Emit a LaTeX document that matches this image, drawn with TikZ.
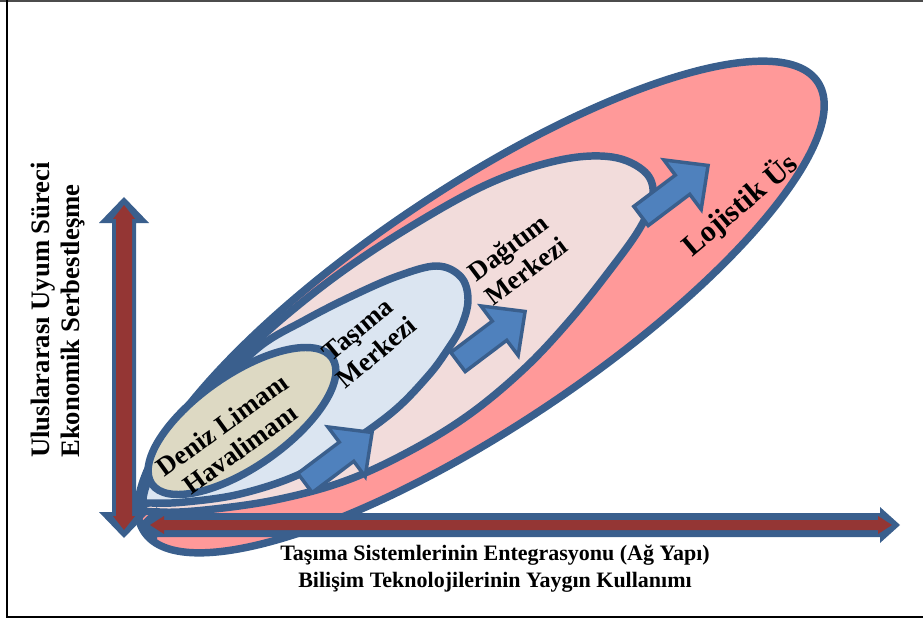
\documentclass[tikz,border=0pt]{standalone}
\usepackage{fontspec}
\setmainfont{Liberation Serif}
\definecolor{rimblue}{HTML}{3A5F8D}
\definecolor{arrowfill}{HTML}{4F81BD}
\definecolor{beige}{HTML}{DDD9C3}
\definecolor{paleblue}{HTML}{DBE5F1}
\definecolor{palepink}{HTML}{F2DCDB}
\definecolor{salmon}{HTML}{FF9999}
\definecolor{axisred}{HTML}{943634}
\begin{document}
\begin{tikzpicture}[x=0.75pt,y=-0.75pt,
  rim/.style={draw=rimblue, line width=5.6pt, line join=round},
  growarrow/.style={draw=rimblue, fill=arrowfill, line width=2.6pt, line join=miter},
  axisbody/.style={fill=rimblue},
  axiscore/.style={fill=axisred},
  stagelbl/.style={font=\bfseries\fontsize{20}{22.5}\selectfont, align=center, inner sep=0pt},
  axislbl/.style={font=\bfseries\fontsize{16.5}{20}\selectfont, align=center, inner sep=0pt},
  sidelbl/.style={font=\bfseries\fontsize{20}{22.5}\selectfont, align=left, inner sep=0pt}
]
\useasboundingbox (0,0) rectangle (923,620);

% frame
\draw[line width=1.2pt, black!70] (0,1) -- (923,1);
\draw[line width=2pt, black] (7,0) -- (7,617) -- (923,617);

% Lojistik Us (outermost stage)
\draw[rim, fill=salmon, rotate around={33.75:(481,307)}] (481,307) ellipse [x radius=405, y radius=119];

% Dagitim Merkezi
\draw[rim, fill=palepink] plot[smooth cycle, tension=0.6] coordinates {
  (141,506) (150,470) (175,430) (205,396) (258,340) (332,279) (410,227)
  (490,183) (560,160) (612,157) (645,172) (653,196) (640,228) (610,270)
  (570,320) (525,368) (470,414) (410,451) (345,481) (275,500) (205,510) (160,512)};

% Tasima Merkezi
\draw[rim, fill=paleblue] plot[smooth cycle, tension=0.6] coordinates {
  (143,500) (152,472) (178,433) (208,399) (258,348) (305,320) (352,296)
  (398,276) (437,266) (461,277) (468,300) (461,327) (446,352) (428,376)
  (395,410) (350,443) (300,474) (240,494) (185,502) (152,503)};

% Deniz Limani / Havalimani
\draw[rim, fill=beige, rotate around={35:(242,421)}] (242,421) ellipse [x radius=110, y radius=46];

% growth arrows between stages
\foreach \px/\py in {305/483, 458/362, 641/216}
  \draw[growarrow, shift={(\px,\py)}, rotate=37]
    (0,-12) -- (52,-12) -- (52,-31) -- (84,0) -- (52,31) -- (52,12) -- (0,12) -- cycle;

% vertical axis
\fill[axisbody] (124,197) -- (149,223) -- (136,223) -- (136,512) -- (149,512) -- (124,538)
  -- (99,512) -- (112,512) -- (112,223) -- (99,223) -- cycle;
\fill[axiscore] (124,205) -- (135,219) -- (132,219) -- (132,516) -- (135,516) -- (124,530)
  -- (113,516) -- (116,516) -- (116,219) -- (113,219) -- cycle;

% horizontal axis
\fill[axisbody] (138,525) -- (157,507) -- (157,513) -- (880,513) -- (880,507) -- (900,525)
  -- (880,543) -- (880,537) -- (157,537) -- (157,543) -- cycle;
\fill[axiscore] (150,525) -- (164,516) -- (164,520) -- (878,520) -- (878,516) -- (892,525)
  -- (878,534) -- (878,530) -- (164,530) -- (164,534) -- cycle;

% stage labels
\node[stagelbl, rotate=36] (deniz) at (231,437) {Deniz Limanı\\Havalimanı};
\node[stagelbl, rotate=40] (tasima) at (367,341) {Taşıma\\Merkezi};
\node[stagelbl, rotate=37] (dagitim) at (517,259) {Dağıtım\\Merkezi};
\node[stagelbl, rotate=40, font=\bfseries\fontsize{22.5}{25}\selectfont] (lojistik) at (740,205) {Lojistik Üs};

% axis labels
\node[axislbl] (xlabel) at (495,569) {Taşıma Sistemlerinin Entegrasyonu (Ağ Yapı)\\Bilişim Teknolojilerinin Yaygın Kullanımı};
\node[sidelbl, rotate=90, anchor=west] (ylabel) at (58,458) {Uluslararası Uyum Süreci\\Ekonomik Serbestleşme};
\end{tikzpicture}
\end{document}
